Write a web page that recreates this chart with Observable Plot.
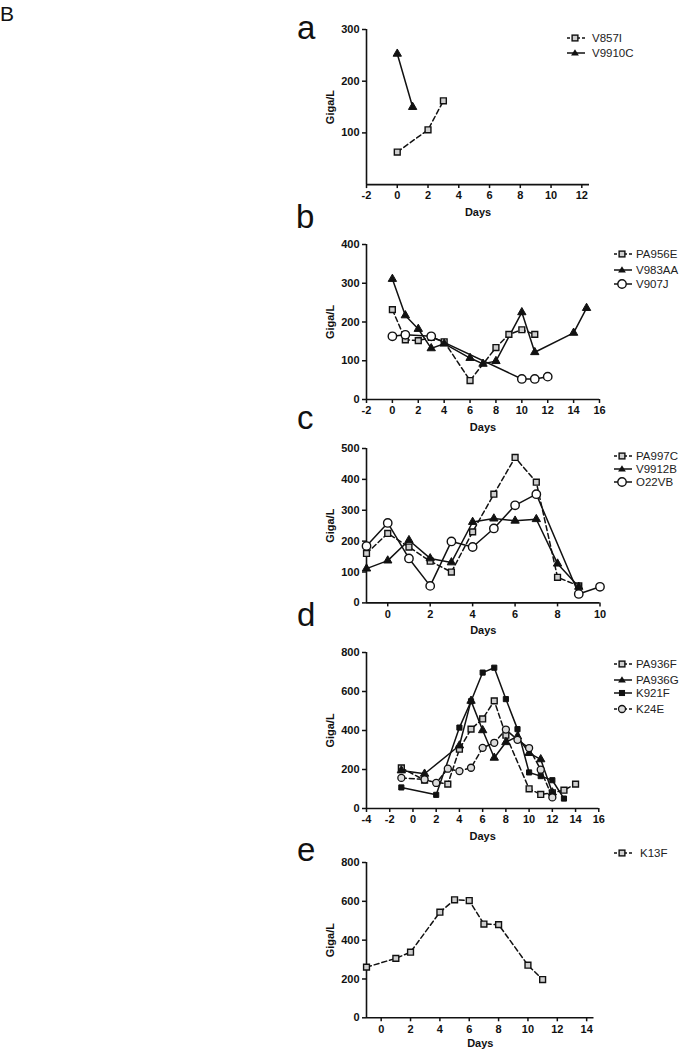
<!DOCTYPE html>
<html>
<head>
<meta charset="utf-8">
<script src="https://cdn.jsdelivr.net/npm/d3@7"></script>
<script src="https://cdn.jsdelivr.net/npm/@observablehq/plot@0.6"></script>
<style>
  html, body { margin: 0; padding: 0; background: #fff; }
  #root { position: relative; width: 682px; height: 1050px; overflow: hidden; background: #fff;
          font-family: "Liberation Sans", Arial, sans-serif; color: #111; }
  .panel { position: absolute; left: 290px; }
  .letter { position: absolute; font-family: "Liberation Sans", Arial, sans-serif; font-size: 33px; line-height: 1; color: #111; }
  .bigB { position: absolute; left: 0px; top: 3px; font-size: 21px; line-height: 1; font-family: "Liberation Sans", Arial, sans-serif; }
  .legrow { position: absolute; height: 12px; display: flex; align-items: center; font-size: 11.5px; line-height: 12px; white-space: nowrap; color: #222; }
  .legrow svg { display: block; }
  .panel svg g[aria-label$="tick"] path { stroke-width: 1.5px; }
</style>
</head>
<body>
<div id="root"></div>
<script>
// ---------- data: [day, Giga/L] per patient ----------
const V857I  = [[0,63],[2,106],[3,162]];
const V9910C = [[0,253],[1,150]];

const PA956E = [[0,232],[1,154],[2,152],[3,160],[4,149],[6,49],[8,134],[9,168],[10,180],[11,168]];
const V983AA = [[0,311],[1,217],[2,182],[3,132],[4,144],[6,107],[7,92],[8,99],[10,225],[11,122],[14,172],[15,236]];
const V907J  = [[0,163],[1,167],[3,163],[10,53],[11,53],[12,59]];

const PA997C = [[-1,160],[0,225],[1,181],[2,135],[3,100],[4,230],[5,352],[6,471],[7,391],[8,83],[9,55]];
const V9912B = [[-1,111],[0,137],[1,203],[2,144],[3,131],[4,262],[5,273],[6,266],[7,271],[8,127],[9,52]];
const O22VB  = [[-1,184],[0,259],[1,144],[2,55],[3,199],[4,181],[5,241],[6,316],[7,352],[9,29],[10,52]];

const PA936F = [[-1,208],[1,145],[3,125],[4,304],[5,407],[6,459],[7,552],[8,376],[10,101],[11,72],[12,80],[13,94],[14,125]];
const PA936G = [[-1,195],[1,178],[4,323],[5,552],[6,401],[7,260],[8,340],[9,370],[10,284],[11,252],[12,82]];
const K921F  = [[-1,108],[2,70],[4,415],[5,550],[6,697],[7,722],[8,561],[9,407],[10,185],[11,166],[12,145],[13,51]];
const K24E   = [[-1,157],[1,149],[2,131],[3,204],[4,192],[5,209],[6,311],[7,337],[8,405],[9,352],[10,310],[11,199],[12,57]];

const K13F   = [[-1,261],[1,306],[2,338],[4,544],[5,608],[6,604],[7,483],[8,480],[10,271],[11,197]];

// ---------- tick labels ----------
const xTicksA = [-2,0,2,4,6,8,10,12];
const yTicksA = [100,200,300];
const xTicksB = [-2,0,2,4,6,8,10,12,14,16];
const yTicksB = [0,100,200,300,400];
const xTicksC = [0,2,4,6,8,10];
const yTicksC = [0,100,200,300,400,500];
const xTicksD = [-4,-2,0,2,4,6,8,10,12,14,16];
const yTicksD = [0,200,400,600,800];
const xTicksE = [0,2,4,6,8,10,12,14];
const yTicksE = [0,200,400,600,800];

// ---------- marker styles ----------
const styles = {
  sqOpen:  {symbol: "square",   r: 3.3, fill: "#cfcfcf", stroke: "#111", strokeWidth: 1.4, dash: "5,3"},
  tri:     {symbol: "triangle", r: 3.1, fill: "#111",    stroke: "#111", strokeWidth: 1,   dash: null},
  circ:    {symbol: "circle",   r: 4.2, fill: "#fff",    stroke: "#111", strokeWidth: 1.4, dash: null},
  sqFill:  {symbol: "square",   r: 2.9, fill: "#111",    stroke: "#111", strokeWidth: 1,   dash: null},
  circDot: {symbol: "circle",   r: 3.5, fill: "#dcdcdc", stroke: "#111", strokeWidth: 1.3, dash: "5,3"}
};

// ---------- layout ----------
const panels = [
  {letter: "a", letterX: 297, letterTop: 11, labelOffset: 31,
   series: [["V857I", V857I, "sqOpen"], ["V9910C", V9910C, "tri"]],
   xDomain: [-2, 12.5], yDomain: [0, 300], xTicks: xTicksA, yTicks: yTicksA,
   yTop: 29.3, y0: 184.4, xEnd: 589,
   legX: 567, legTextGap: 7, legRows: [38, 53]},
  {letter: "b", letterX: 296, letterTop: 200, labelOffset: 31,
   series: [["PA956E", PA956E, "sqOpen"], ["V983AA", V983AA, "tri"], ["V907J", V907J, "circ"]],
   xDomain: [-2, 16], yDomain: [0, 400], xTicks: xTicksB, yTicks: yTicksB,
   yTop: 244, y0: 399, xEnd: 599,
   legX: 614, legTextGap: 4, legRows: [254, 270, 284]},
  {letter: "c", letterX: 297, letterTop: 401, labelOffset: 31,
   series: [["PA997C", PA997C, "sqOpen"], ["V9912B", V9912B, "tri"], ["O22VB", O22VB, "circ"]],
   xDomain: [-1, 10], yDomain: [0, 500], xTicks: xTicksC, yTicks: yTicksC,
   yTop: 448.3, y0: 602.7, xEnd: 599.5,
   legX: 614, legTextGap: 4, legRows: [456, 469, 482]},
  {letter: "d", letterX: 297, letterTop: 598, labelOffset: 31,
   series: [["PA936F", PA936F, "sqOpen"], ["PA936G", PA936G, "tri"], ["K921F", K921F, "sqFill"], ["K24E", K24E, "circDot"]],
   xDomain: [-4, 16], yDomain: [0, 800], xTicks: xTicksD, yTicks: yTicksD,
   yTop: 652.3, y0: 808.3, xEnd: 598.3,
   legX: 614, legTextGap: 4, legRows: [664, 680, 693, 709]},
  {letter: "e", letterX: 297, letterTop: 833, labelOffset: 29,
   series: [["K13F", K13F, "sqOpen"]],
   xDomain: [-1, 14.5], yDomain: [0, 800], xTicks: xTicksE, yTicks: yTicksE,
   yTop: 861.7, y0: 1017, xEnd: 593.5,
   legX: 614, legTextGap: 8, legRows: [853]}
];

const root = document.getElementById("root");
const big = document.createElement("div");
big.className = "bigB"; big.textContent = "B";
root.appendChild(big);

const MT = 10, MB = 32, LEFT = 290, W = 392;

function legendSample(st) {
  const w = 18, h = 12, cx = 8, cy = 6;
  let m = "";
  if (st.symbol === "square") {
    const s = st.r * 1.75;
    m = `<rect x="${cx - s/2}" y="${cy - s/2}" width="${s}" height="${s}" fill="${st.fill}" stroke="${st.stroke}" stroke-width="${st.strokeWidth}"/>`;
  } else if (st.symbol === "triangle") {
    const s = st.r * 1.1;
    m = `<path d="M${cx},${cy - s * 1.1}L${cx + s * 1.15},${cy + s * 0.75}L${cx - s * 1.15},${cy + s * 0.75}Z" fill="${st.fill}"/>`;
  } else {
    m = `<circle cx="${cx}" cy="${cy}" r="${st.r}" fill="${st.fill}" stroke="${st.stroke}" stroke-width="${st.strokeWidth}"/>`;
  }
  const dash = st.dash ? `stroke-dasharray="3,2"` : "";
  return `<svg width="${w}" height="${h}"><line x1="0" x2="${w}" y1="${cy}" y2="${cy}" stroke="#111" stroke-width="1.5" ${dash}/>${m}</svg>`;
}

for (const p of panels) {
  const plotH = p.y0 - p.yTop;
  const height = plotH + MT + MB;
  const marks = [
    Plot.ruleY([p.yDomain[0]], {stroke: "#111", strokeWidth: 1.6}),
    Plot.ruleX([p.xDomain[0]], {stroke: "#111", strokeWidth: 1.6}),
    ...p.series.map(([name, data, key]) => Plot.line(data, {
      x: d => d[0], y: d => d[1], stroke: "#111", strokeWidth: 1.5,
      strokeDasharray: styles[key].dash
    })),
    ...p.series.map(([name, data, key]) => Plot.dot(data, {
      x: d => d[0], y: d => d[1], symbol: styles[key].symbol, r: styles[key].r,
      fill: styles[key].fill, stroke: styles[key].stroke, strokeWidth: styles[key].strokeWidth
    }))
  ];
  const chart = Plot.plot({
    width: W, height: height,
    marginLeft: 366 - LEFT, marginRight: LEFT + W - p.xEnd,
    marginTop: MT, marginBottom: MB,
    x: {domain: p.xDomain, ticks: p.xTicks, tickSize: 4, tickPadding: 3, tickFormat: d => String(d),
        label: "Days", labelAnchor: "center", labelOffset: p.labelOffset, labelArrow: "none"},
    y: {domain: p.yDomain, ticks: p.yTicks, tickSize: 4, tickPadding: 3, tickFormat: d => String(d),
        label: "Giga/L", labelAnchor: "center", labelOffset: 40, labelArrow: "none"},
    style: {fontFamily: "'Liberation Sans', Arial, sans-serif", fontSize: "11px", fontWeight: "bold",
            color: "#111", background: "transparent", overflow: "visible"},
    marks
  });
  const div = document.createElement("div");
  div.className = "panel";
  div.style.top = (p.yTop - MT) + "px";
  div.appendChild(chart);
  root.appendChild(div);

  const letter = document.createElement("div");
  letter.className = "letter";
  letter.style.left = p.letterX + "px";
  letter.style.top = p.letterTop + "px";
  letter.textContent = p.letter;
  root.appendChild(letter);

  p.series.forEach(([name, data, key], i) => {
    const row = document.createElement("div");
    row.className = "legrow";
    row.style.left = p.legX + "px";
    row.style.top = (p.legRows[i] - 6) + "px";
    row.innerHTML = legendSample(styles[key]) + `<span style="margin-left:${p.legTextGap}px">${name}</span>`;
    root.appendChild(row);
  });
}
</script>
</body>
</html>
